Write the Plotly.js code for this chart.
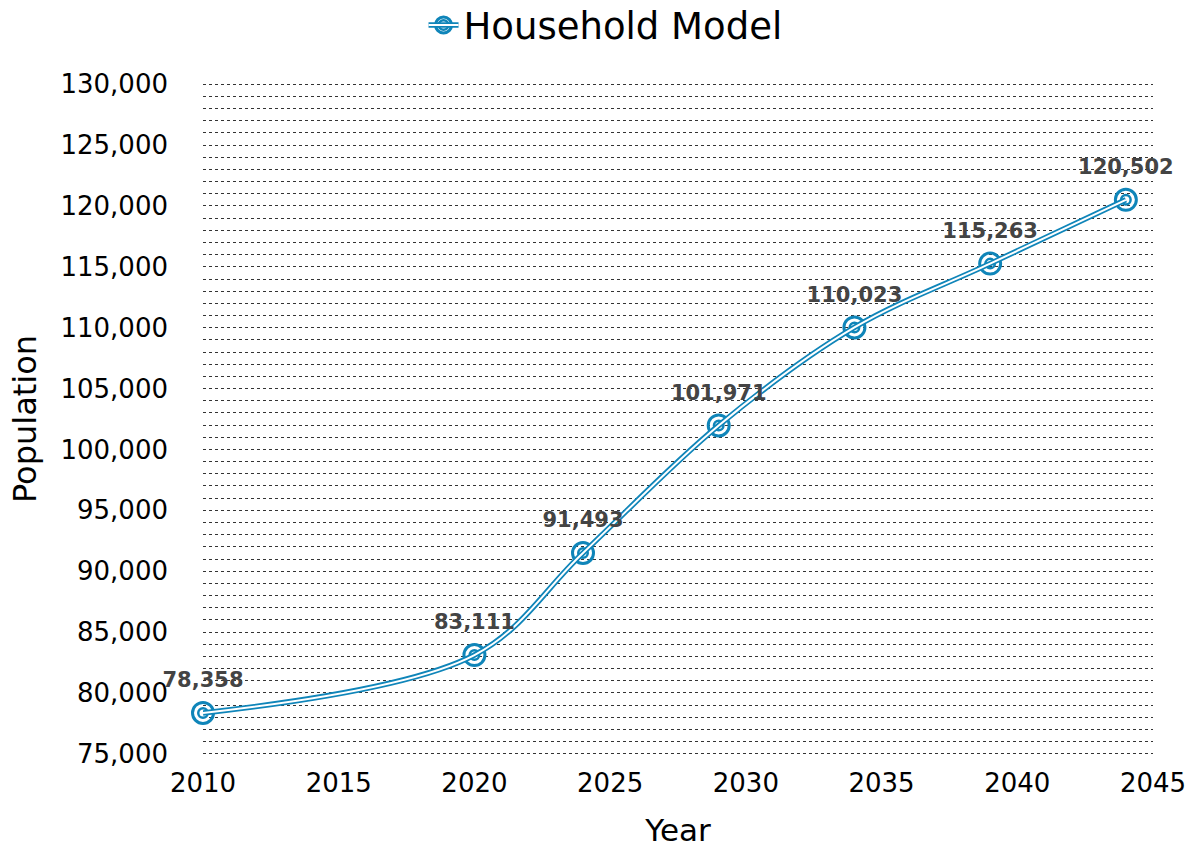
<!DOCTYPE html>
<html>
<head>
<meta charset="utf-8">
<script src="https://cdn.plot.ly/plotly-3.0.1.min.js"></script>
<style>html,body{margin:0;padding:0;background:#fff;}#chart{width:1192px;height:848px;}</style>
</head>
<body>
<div id="chart"></div>
<script>
const years = [2010, 2020, 2024, 2029, 2034, 2039, 2044];
const population = [78358, 83111, 91493, 101971, 110023, 115263, 120502];
const seriesName = "Household Model";
const yTickVals = [75000, 80000, 85000, 90000, 95000, 100000, 105000, 110000, 115000, 120000, 125000, 130000];
const xTickVals = [2010, 2015, 2020, 2025, 2030, 2035, 2040, 2045];

const blue = "#0f85b9";
const labels = population.map(v => v.toLocaleString("en-US"));

const outer = {
  x: years, y: population, type: "scatter", mode: "lines+markers",
  name: seriesName, legend: "legend",
  line: {color: blue, width: 5.5, shape: "spline"},
  marker: {symbol: "circle-open", size: 21, color: blue, line: {color: blue, width: 3}},
  cliponaxis: false, hoverinfo: "x+y"
};
const innerRing = {
  x: years, y: population, type: "scatter", mode: "markers",
  name: seriesName, legend: "legend3",
  marker: {symbol: "circle-open", size: 9.5, color: blue, line: {color: blue, width: 2.5}},
  cliponaxis: false, hoverinfo: "skip"
};
const inner = {
  x: years, y: population, type: "scatter", mode: "lines",
  name: seriesName, legend: "legend2",
  line: {color: "#ffffff", width: 2, shape: "spline"},
  cliponaxis: false, hoverinfo: "skip"
};
const valueLabels = {
  x: years, y: population, type: "scatter", mode: "markers+text",
  showlegend: false,
  marker: {size: 31, color: "rgba(0,0,0,0)"},
  text: labels, textposition: "top center",
  textfont: {family: "DejaVu Sans", size: 21, color: "#444444", weight: "bold"},
  cliponaxis: false, hoverinfo: "skip"
};

const legendBase = {
  orientation: "h", xref: "container", yref: "container",
  x: 0.508, xanchor: "center", y: 0.97, yanchor: "middle",
  bgcolor: "rgba(0,0,0,0)", borderwidth: 0
};

const layout = {
  width: 1192, height: 848,
  paper_bgcolor: "#ffffff", plot_bgcolor: "#ffffff",
  font: {family: "DejaVu Sans", color: "#000"},
  margin: {l: 203, r: 39, t: 83, b: 93},
  showlegend: true,
  legend: Object.assign({}, legendBase, {font: {family: "DejaVu Sans", size: 37, color: "#000"}}),
  legend2: Object.assign({}, legendBase, {font: {family: "DejaVu Sans", size: 37, color: "rgba(0,0,0,0)"}}),
  legend3: Object.assign({}, legendBase, {font: {family: "DejaVu Sans", size: 37, color: "rgba(0,0,0,0)"}}),
  xaxis: {
    range: [2010, 2045], tickvals: xTickVals, ticktext: xTickVals.map(String),
    showgrid: false, zeroline: false, showline: false, ticks: "",
    tickfont: {size: 26, color: "#000"}, ticklabelstandoff: 10,
    title: {text: "Year", font: {size: 31, color: "#000"}, standoff: 24}
  },
  yaxis: {
    range: [74900, 130100], tickvals: yTickVals, ticktext: yTickVals.map(v => v.toLocaleString("en-US")),
    showgrid: true, griddash: "dot", gridcolor: "#333", gridwidth: 1,
    minor: {dtick: 1000, showgrid: true, griddash: "dot", gridcolor: "#333", gridwidth: 1},
    zeroline: false, showline: false, ticks: "",
    tickfont: {size: 26, color: "#000"}, ticklabelstandoff: 34,
    title: {text: "Population", font: {size: 32, color: "#000"}, standoff: 14}
  }
};

Plotly.newPlot("chart", [outer, innerRing, inner, valueLabels], layout, {displayModeBar: false, responsive: false});
</script>
</body>
</html>
